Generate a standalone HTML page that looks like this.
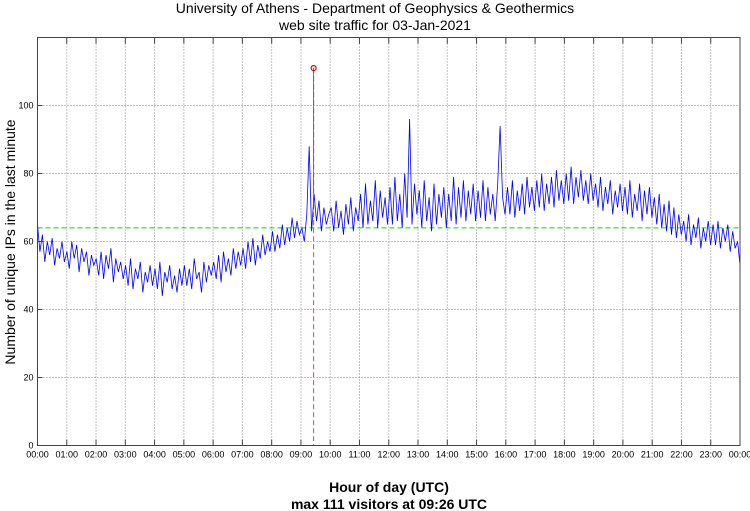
<!DOCTYPE html>
<html><head><meta charset="utf-8"><style>
body{margin:0;background:#fff;}
svg{display:block;font-family:"Liberation Sans",sans-serif;}
</style></head><body>
<svg id="c" width="750" height="511">
<text x="375" y="13" font-size="14" text-anchor="middle">University of Athens - Department of Geophysics &amp; Geothermics</text>
<text x="375" y="30" font-size="14" text-anchor="middle">web site traffic for 03-Jan-2021</text>
<text transform="translate(15,242) rotate(-90)" font-size="14" text-anchor="middle">Number of unique IPs in the last minute</text>
<text x="389" y="492" font-size="14" text-anchor="middle" font-weight="bold">Hour of day (UTC)</text>
<text x="389" y="509" font-size="14" text-anchor="middle" font-weight="bold">max 111 visitors at 09:26 UTC</text>
<g id="grid"></g><g id="plot"></g><g id="axes"></g>
</svg>
<script>
const yTicks=[0,20,40,60,80,100];
const hourLabels=["00:00","01:00","02:00","03:00","04:00","05:00","06:00","07:00","08:00","09:00","10:00","11:00","12:00","13:00","14:00","15:00","16:00","17:00","18:00","19:00","20:00","21:00","22:00","23:00","00:00"];
const traffic5min=[
65,57,62,54,60,56,61,53,58,55,60,54,
57,52,60,55,59,51,58,54,57,50,56,53,
55,50,57,49,56,52,58,48,55,51,54,49,
53,47,55,46,52,49,54,45,51,48,53,47,
52,46,54,44,51,48,53,46,50,45,52,47,
53,47,52,46,55,49,51,45,54,48,53,50,
54,49,56,48,57,51,55,50,58,52,57,53,
58,52,60,54,61,53,59,55,62,56,60,57,
63,57,62,58,65,59,64,60,67,61,66,62,
64,60,68,88,63,74,66,72,63,70,65,68,
70,63,72,64,69,62,71,65,73,63,70,66,
74,64,77,65,72,66,78,64,75,67,73,65,
76,65,79,66,74,64,80,67,96,65,77,68,
75,64,78,66,73,63,77,65,74,67,76,64,
74,66,79,65,76,67,78,66,75,68,77,66,
75,67,78,66,76,68,74,66,77,94,73,68,
76,68,78,67,75,69,77,68,79,70,76,69,
78,70,80,69,77,71,79,70,81,72,78,71,
80,72,82,71,79,73,81,72,78,71,80,72,
77,70,79,69,76,71,78,68,75,70,77,69,
76,68,78,67,74,69,77,66,75,68,76,67,
73,65,74,64,71,63,72,62,70,61,68,62,
66,60,68,59,65,61,67,58,64,60,66,59,
65,59,66,58,64,60,65,57,63,58,60,53];
const meanValue=[64];
const maxValue=[111];
const maxMinute=[566];
const L=37.5,R=740,T=37.5,B=445.5;
const x=m=>L+(R-L)*m/1440, y=v=>B-(B-T)*v/120;
const NS="http://www.w3.org/2000/svg";
function mk(p,t,a){const e=document.createElementNS(NS,t);for(const k in a)e.setAttribute(k,a[k]);p.appendChild(e);return e;}
const grid=document.getElementById('grid'),plot=document.getElementById('plot'),axes=document.getElementById('axes');
yTicks.forEach(v=>{
 if(v>0){const g=mk(grid,'line',{x1:L,x2:R,y1:y(v),y2:y(v),stroke:'#888','stroke-width':1,'stroke-dasharray':'1,2'});
 
 }
 const t=mk(axes,'text',{x:L-4,y:y(v)+3,'font-size':9,'text-anchor':'end'});t.textContent=v;
 
 
 mk(axes,'line',{x1:L,x2:L+5,y1:y(v),y2:y(v),stroke:'#444'});
});
hourLabels.forEach((h,i)=>{
 const xx=x(i*60);
 if(i>0&&i<24){const g=mk(grid,'line',{x1:xx,x2:xx,y1:T,y2:B,stroke:'#888','stroke-width':1,'stroke-dasharray':'1,2'});
 
 }
 mk(axes,'line',{x1:xx,x2:xx,y1:B,y2:B-6,stroke:'#444'});
 mk(axes,'line',{x1:xx,x2:xx,y1:T,y2:T+6,stroke:'#444'});
 const t=mk(axes,'text',{x:xx,y:B+12,'font-size':9,'text-anchor':'middle'});t.textContent=h;
 
 
});
const fr=mk(axes,'rect',{x:L,y:T,width:R-L,height:B-T,fill:'none',stroke:'#444'});


const ml=mk(plot,'line',{x1:L,x2:R,y1:y(meanValue[0]),y2:y(meanValue[0]),stroke:'#00dd00','stroke-dasharray':'5,3'});


const mx=x(maxMinute[0]);
const d=mk(plot,'line',{x1:mx,x2:mx,y1:y(maxValue[0]),y2:B,stroke:'#b06060','stroke-dasharray':'5,3'});


const n=traffic5min.length;
const pts=traffic5min.map((v,i)=>x(i*1440/(n-1)).toFixed(1)+','+y(v).toFixed(1)).join(' ');
const pl=mk(plot,'polyline',{points:pts,fill:'none',stroke:'#0000ff','stroke-width':0.8});


const s=mk(plot,'line',{x1:mx,x2:mx,y1:y(maxValue[0]),y2:y(70),stroke:'#c03030','stroke-width':0.8});


const c=mk(plot,'circle',{cx:mx,cy:y(maxValue[0]),r:2.5,fill:'none',stroke:'#e00000','stroke-width':1.2});


</script>
</body></html>
